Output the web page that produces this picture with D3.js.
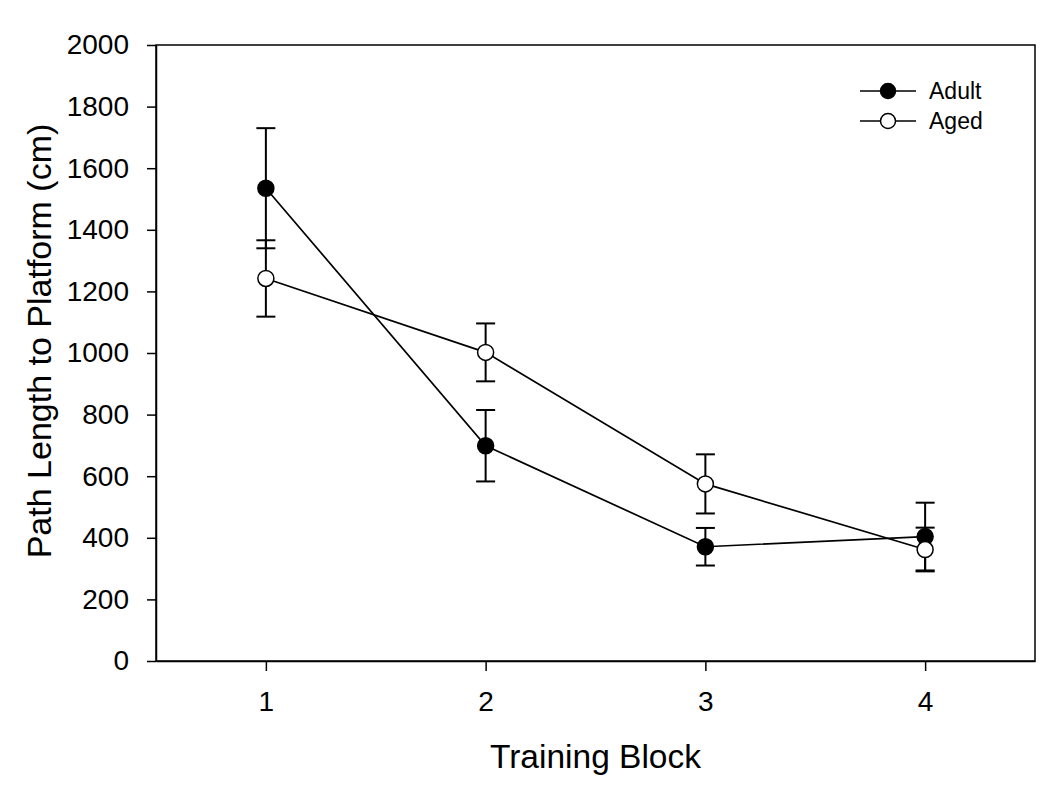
<!DOCTYPE html>
<html>
<head>
<meta charset="utf-8">
<script src="https://cdn.jsdelivr.net/npm/d3@7"></script>
<style>
  body { margin: 0; background: #fff; }
  svg { font-family: "Liberation Sans", Arial, sans-serif; }
</style>
</head>
<body>
<svg id="drawing_region"></svg>
<script>
// data
var blocks = [1, 2, 3, 4];
var adultMean = [1535, 699, 371, 404];
var adultSE = [195, 116, 61, 110];
var agedMean = [1242, 1002, 575, 362];
var agedSE = [124, 94, 96, 71];
var yTicks = [0, 200, 400, 600, 800, 1000, 1200, 1400, 1600, 1800, 2000];

var width = 1050;
var height = 785;
var margin = {top: 45, right: 15, bottom: 124, left: 156};

var svg = d3.select('#drawing_region')
    .attr('width', width)
    .attr('height', height);

const inner_width = width - margin.left - margin.right;
const inner_height = height - margin.top - margin.bottom;

var chart = svg.append('g')
    .attr('transform', `translate(${margin.left}, ${margin.top})`);

const xscale = d3.scaleLinear()
      .domain([0.5, 4.5])
      .range([0, inner_width]);

const yscale = d3.scaleLinear()
      .domain([0, 2000])
      .range([inner_height, 0]);

// frame
chart.append('rect')
    .attr('width', inner_width)
    .attr('height', inner_height)
    .attr('fill', 'none')
    .attr('stroke', '#000')
    .attr('stroke-width', 1.5);

const xaxis = d3.axisBottom(xscale)
      .tickValues(blocks)
      .tickFormat(d3.format('d'))
      .tickSize(10)
      .tickPadding(20)
      .tickSizeOuter(0);

const yaxis = d3.axisLeft(yscale)
      .tickValues(yTicks)
      .tickFormat(d3.format('d'))
      .tickSize(9)
      .tickPadding(18)
      .tickSizeOuter(0);

const xg = chart.append('g')
      .attr('transform', `translate(0, ${inner_height})`)
      .call(xaxis);
const yg = chart.append('g').call(yaxis);

[xg, yg].forEach(g => {
  g.select('.domain').attr('stroke-width', 1.5);
  g.selectAll('.tick line').attr('stroke-width', 1.5);
  g.selectAll('.tick text')
    .attr('font-size', 28)
    .attr('font-family', '"Liberation Sans", Arial, sans-serif')
    .attr('fill', '#000');
});

// axis titles
svg.append('text')
    .attr('x', margin.left + inner_width / 2)
    .attr('y', 768)
    .attr('text-anchor', 'middle')
    .attr('font-size', 33.5)
    .text('Training Block');

svg.append('text')
    .attr('transform', 'translate(51, 341) rotate(-90)')
    .attr('text-anchor', 'middle')
    .attr('font-size', 34)
    .text('Path Length to Platform (cm)');

var series = [
  {name: 'Adult', mean: adultMean, se: adultSE, fill: '#000'},
  {name: 'Aged', mean: agedMean, se: agedSE, fill: '#fff'}
];

var line = d3.line()
    .x(d => xscale(d.x))
    .y(d => yscale(d.y));

var cap = 9.5;

series.forEach(s => {
  var pts = blocks.map((b, i) => ({x: b, y: s.mean[i], e: s.se[i]}));
  var g = chart.append('g');

  // error bars
  var eb = g.selectAll('g.err').data(pts).enter().append('g')
      .attr('stroke', '#000').attr('stroke-width', 2);
  eb.append('line')
      .attr('x1', d => xscale(d.x)).attr('x2', d => xscale(d.x))
      .attr('y1', d => yscale(d.y - d.e)).attr('y2', d => yscale(d.y + d.e));
  eb.append('line')
      .attr('x1', d => xscale(d.x) - cap).attr('x2', d => xscale(d.x) + cap)
      .attr('y1', d => yscale(d.y + d.e)).attr('y2', d => yscale(d.y + d.e));
  eb.append('line')
      .attr('x1', d => xscale(d.x) - cap).attr('x2', d => xscale(d.x) + cap)
      .attr('y1', d => yscale(d.y - d.e)).attr('y2', d => yscale(d.y - d.e));

  g.append('path')
      .attr('d', line(pts))
      .attr('fill', 'none')
      .attr('stroke', '#000')
      .attr('stroke-width', 1.7);

  g.selectAll('circle').data(pts).enter().append('circle')
      .attr('cx', d => xscale(d.x))
      .attr('cy', d => yscale(d.y))
      .attr('r', 8)
      .attr('fill', s.fill)
      .attr('stroke', '#000')
      .attr('stroke-width', 1.5);
});

// legend
var legend = svg.append('g').attr('transform', 'translate(860, 91)');
series.forEach((s, i) => {
  var lg = legend.append('g').attr('transform', `translate(0, ${i * 30})`);
  lg.append('line').attr('x1', 0).attr('x2', 56).attr('y1', 0).attr('y2', 0)
      .attr('stroke', '#000').attr('stroke-width', 1.7);
  lg.append('circle').attr('cx', 28).attr('cy', 0).attr('r', 7.5)
      .attr('fill', s.fill).attr('stroke', '#000').attr('stroke-width', 1.5);
  lg.append('text').attr('x', 69).attr('y', 0).attr('dy', '0.35em')
      .attr('font-size', 23).text(s.name);
});
</script>
</body>
</html>
